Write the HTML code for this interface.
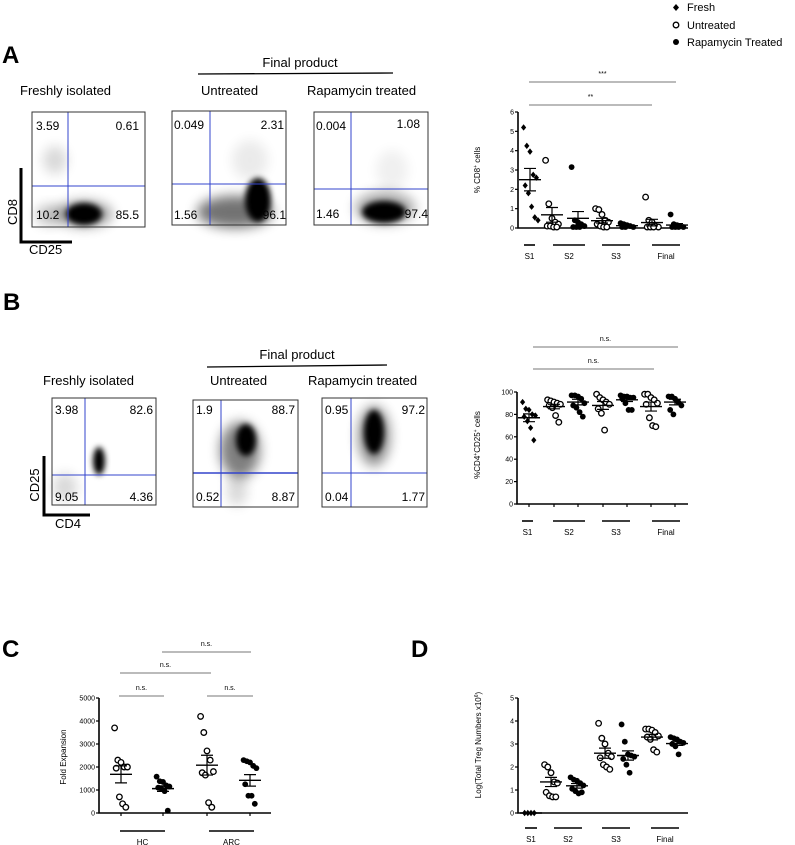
<!DOCTYPE html>
<html><head><meta charset="utf-8">
<style>
body{margin:0;background:#fff;width:795px;height:845px;overflow:hidden;font-family:"Liberation Sans",Arial,sans-serif}
svg{position:absolute;left:0;top:0}
text{font-family:"Liberation Sans",Arial,sans-serif}
</style></head>
<body>
<svg id="fig" width="795" height="845" viewBox="0 0 795 845">
<defs>
<filter id="b2" x="-50%" y="-50%" width="200%" height="200%"><feGaussianBlur stdDeviation="3"/></filter>
<filter id="b5" x="-50%" y="-50%" width="200%" height="200%"><feGaussianBlur stdDeviation="6"/></filter>
</defs>
<g>
<path d="M676 4 L679 7.5 L676 11 L673 7.5Z" fill="#000"/>
<text x="687" y="11" font-size="11">Fresh</text>
<circle cx="676" cy="25" r="2.8" fill="#fff" stroke="#000" stroke-width="1.3"/>
<text x="687" y="29" font-size="11">Untreated</text>
<circle cx="676" cy="42" r="3" fill="#000"/>
<text x="687" y="46" font-size="11">Rapamycin Treated</text>
</g>
<text x="2" y="63" font-size="24" font-weight="bold">A</text>
<text x="3" y="310" font-size="24" font-weight="bold">B</text>
<text x="2" y="657" font-size="24" font-weight="bold">C</text>
<text x="411" y="657" font-size="24" font-weight="bold">D</text>

<g>
<text x="300" y="67" font-size="13" text-anchor="middle">Final product</text>
<line x1="198" y1="74" x2="393" y2="73" stroke="#000" stroke-width="1.3"/>
<text x="20" y="95" font-size="13">Freshly isolated</text>
<text x="201" y="95" font-size="13">Untreated</text>
<text x="307" y="95" font-size="13">Rapamycin treated</text>
<g>
<ellipse cx="55" cy="160" rx="12" ry="14" fill="#000" opacity="0.15" filter="url(#b5)"/>
<ellipse cx="84" cy="214" rx="18" ry="11" fill="#000" filter="url(#b2)"/>
<ellipse cx="84" cy="214" rx="28" ry="13" fill="#000" opacity="0.4" filter="url(#b5)"/>
<ellipse cx="50" cy="215" rx="14" ry="10" fill="#000" opacity="0.25" filter="url(#b5)"/>
<line x1="68" y1="112" x2="68" y2="227" stroke="#3344cc" stroke-width="1"/>
<line x1="32" y1="186" x2="145" y2="186" stroke="#3344cc" stroke-width="1"/>
<rect x="32" y="112" width="113" height="115" fill="none" stroke="#333" stroke-width="1"/>
<text x="36" y="130" font-size="12">3.59</text><text x="139" y="130" font-size="12" text-anchor="end">0.61</text>
<text x="36" y="219" font-size="12">10.2</text><text x="139" y="219" font-size="12" text-anchor="end">85.5</text>
<path d="M21 168 V242 H72" fill="none" stroke="#000" stroke-width="3"/>
<text transform="translate(17,212) rotate(-90)" font-size="13" text-anchor="middle">CD8</text>
<text x="29" y="244" font-size="13" dy="10">CD25</text>
</g>
<g>
<ellipse cx="258" cy="200" rx="13" ry="22" fill="#000" filter="url(#b2)"/>
<ellipse cx="235" cy="212" rx="38" ry="16" fill="#000" opacity="0.55" filter="url(#b5)"/>
<ellipse cx="250" cy="160" rx="18" ry="20" fill="#000" opacity="0.08" filter="url(#b5)"/>
<line x1="210" y1="111" x2="210" y2="225" stroke="#3344cc"/>
<line x1="172" y1="184" x2="286" y2="184" stroke="#3344cc"/>
<rect x="172" y="111" width="114" height="114" fill="none" stroke="#333"/>
<text x="174" y="129" font-size="12">0.049</text><text x="284" y="129" font-size="12" text-anchor="end">2.31</text>
<text x="174" y="219" font-size="12">1.56</text><text x="286" y="219" font-size="12" text-anchor="end">96.1</text>
</g>
<g>
<ellipse cx="384" cy="212" rx="22" ry="11" fill="#000" filter="url(#b2)"/>
<ellipse cx="385" cy="208" rx="30" ry="16" fill="#000" opacity="0.35" filter="url(#b5)"/>
<ellipse cx="392" cy="170" rx="16" ry="20" fill="#000" opacity="0.06" filter="url(#b5)"/>
<line x1="351" y1="112" x2="351" y2="225" stroke="#3344cc"/>
<line x1="314" y1="189" x2="428" y2="189" stroke="#3344cc"/>
<rect x="314" y="112" width="114" height="113" fill="none" stroke="#333"/>
<text x="316" y="130" font-size="12">0.004</text><text x="420" y="128" font-size="12" text-anchor="end">1.08</text>
<text x="316" y="218" font-size="12">1.46</text><text x="428" y="218" font-size="12" text-anchor="end">97.4</text>
</g>
</g>

<g>
<text x="297" y="359" font-size="13" text-anchor="middle">Final product</text>
<line x1="207" y1="367" x2="387" y2="365" stroke="#000" stroke-width="1.3"/>
<text x="43" y="385" font-size="13">Freshly isolated</text>
<text x="210" y="385" font-size="13">Untreated</text>
<text x="308" y="385" font-size="13">Rapamycin treated</text>
<g>
<ellipse cx="99" cy="461" rx="6" ry="14" fill="#000" filter="url(#b2)"/>
<ellipse cx="65" cy="487" rx="12" ry="14" fill="#000" opacity="0.15" filter="url(#b5)"/>
<line x1="85" y1="398" x2="85" y2="505" stroke="#3344cc"/>
<line x1="52" y1="475" x2="156" y2="475" stroke="#3344cc"/>
<rect x="52" y="398" width="104" height="107" fill="none" stroke="#333"/>
<text x="55" y="414" font-size="12">3.98</text><text x="153" y="414" font-size="12" text-anchor="end">82.6</text>
<text x="55" y="501" font-size="12">9.05</text><text x="153" y="501" font-size="12" text-anchor="end">4.36</text>
<path d="M44 456 V515 H90" fill="none" stroke="#000" stroke-width="3"/>
<text transform="translate(39,485) rotate(-90)" font-size="13" text-anchor="middle">CD25</text>
<text x="55" y="528" font-size="13">CD4</text>
</g>
<g>
<ellipse cx="246" cy="440" rx="10" ry="16" fill="#000" filter="url(#b2)"/>
<ellipse cx="240" cy="450" rx="20" ry="28" fill="#000" opacity="0.5" filter="url(#b5)"/>
<ellipse cx="237" cy="490" rx="10" ry="16" fill="#000" opacity="0.15" filter="url(#b5)"/>
<line x1="221" y1="400" x2="221" y2="507" stroke="#3344cc"/>
<line x1="193" y1="473" x2="298" y2="473" stroke="#3344cc" stroke-width="1.5"/>
<rect x="193" y="400" width="105" height="107" fill="none" stroke="#333"/>
<text x="196" y="414" font-size="12">1.9</text><text x="295" y="414" font-size="12" text-anchor="end">88.7</text>
<text x="196" y="501" font-size="12">0.52</text><text x="295" y="501" font-size="12" text-anchor="end">8.87</text>
</g>
<g>
<ellipse cx="374" cy="432" rx="10" ry="22" fill="#000" filter="url(#b2)"/>
<ellipse cx="374" cy="436" rx="16" ry="30" fill="#000" opacity="0.45" filter="url(#b5)"/>
<line x1="351" y1="398" x2="351" y2="507" stroke="#3344cc"/>
<line x1="322" y1="473" x2="427" y2="473" stroke="#3344cc"/>
<rect x="322" y="398" width="105" height="109" fill="none" stroke="#333"/>
<text x="325" y="414" font-size="12">0.95</text><text x="425" y="414" font-size="12" text-anchor="end">97.2</text>
<text x="325" y="501" font-size="12">0.04</text><text x="425" y="501" font-size="12" text-anchor="end">1.77</text>
</g>
</g>
<g id="charts"></g>
</svg>
<script>
const aTicks = [0,1,2,3,4,5,6];
const aMeans = [2.5,0.68,0.5,0.38,0.12,0.28,0.15];
const aSems  = [0.58,0.38,0.35,0.12,0.03,0.17,0.08];
const aValues = [
 [5.2,4.25,3.95,2.75,2.6,2.2,1.8,1.1,0.55,0.4],
 [3.5,1.25,0.5,0.3,0.2,0.1,0.1,0.05,0.05],
 [3.15,0.4,0.3,0.2,0.1,0.05,0.05,0.05],
 [1.0,0.95,0.7,0.4,0.3,0.2,0.1,0.05,0.05],
 [0.25,0.2,0.15,0.1,0.05,0.05,0.05],
 [1.6,0.4,0.3,0.1,0.05,0.05,0.05,0.05],
 [0.7,0.2,0.15,0.1,0.05,0.05,0.05,0.05]];
const aGroups = ["S1","S2","S3","Final"];
const bTicks = [0,20,40,60,80,100];
const bMeans = [77,87,91,88,93,87,91];
const bSems  = [3.5,2,2.5,3.5,1.5,4,2.5];
const bValues = [
 [91,85,84,80,79,78,74,68,57],
 [93,92,91,90,89,88,86,79,73],
 [97,97,96,94,90,88,86,82,78],
 [98,95,93,91,89,85,81,66],
 [97,96,96,95,95,94,90,84,84],
 [98,98,95,93,90,89,77,70,69],
 [96,96,94,91,88,84,80]];
const bGroups = ["S1","S2","S3","Final"];
const cTicks = [0,1000,2000,3000,4000,5000];
const cMeans = [1680,1060,2080,1420];
const cSems  = [370,120,430,250];
const cValues = [
 [3700,2300,2200,2000,2000,1950,700,400,250],
 [1580,1380,1350,1200,1150,1100,1050,950,100],
 [4200,3500,2700,2300,1800,1750,1650,450,250],
 [2300,2250,2200,2050,1950,1250,750,750,400]];
const cGroups = ["HC","ARC"];
const dTicks = [0,1,2,3,4,5];
const dMeans = [0,1.35,1.18,2.6,2.5,3.3,3.02];
const dSems  = [0,0.2,0.1,0.22,0.2,0.12,0.08];
const dValues = [
 [0,0,0,0],
 [2.1,2.0,1.75,1.35,1.3,0.9,0.75,0.7,0.7],
 [1.55,1.45,1.4,1.3,1.2,1.05,0.95,0.85,0.9],
 [3.9,3.25,3.0,2.6,2.45,2.4,2.1,2.0,1.9],
 [3.85,3.1,2.55,2.5,2.45,2.35,2.1,1.75],
 [3.65,3.65,3.6,3.5,3.35,3.3,3.2,2.75,2.65],
 [3.3,3.25,3.2,3.1,3.05,3.0,2.9,2.55]];
const dGroups = ["S1","S2","S3","Final"];

const NS="http://www.w3.org/2000/svg";
const root=document.getElementById('charts');
function el(tag,attrs,parent){const e=document.createElementNS(NS,tag);for(const k in attrs)e.setAttribute(k,attrs[k]);(parent||root).appendChild(e);return e;}
function txt(x,y,s,size,anchor,parent){const t=el('text',{x:x,y:y,'font-size':size,'text-anchor':anchor||'middle'},parent);t.textContent=s;return t;}

function chart(cfg){
 const g=el('g',{});
 
 
 const ymax=cfg.ticks[cfg.ticks.length-1];
 const Y=v=>cfg.y0+(cfg.y1-cfg.y0)*(v/ymax);
 const X=i=>cfg.xs[i];
 const ax=el('path',{d:`M${cfg.ax} ${cfg.y1} V${cfg.y0} H${cfg.axEnd}`,fill:'none',stroke:'#000','stroke-width':1.6},g);
 
 
 cfg.ticks.forEach(t=>{
  el('line',{x1:cfg.ax-3,x2:cfg.ax,y1:Y(t),y2:Y(t),stroke:'#000','stroke-width':1.2},g);
  const lb=txt(cfg.ax-4,Y(t)+2.5,String(t),7,'end',g);
  
  
 });
 if(cfg.xticks) cfg.xs.forEach(x=>el('line',{x1:x,x2:x,y1:cfg.y0,y2:cfg.y0+3,stroke:'#000','stroke-width':1.2},g));
 const yt=el('text',{transform:`translate(${cfg.ytx},${cfg.yty}) rotate(-90)`,'font-size':8,'text-anchor':'middle'},g);
 yt.innerHTML=cfg.ytitle;
 
 
 cfg.values.forEach((arr,i)=>{
  const type=cfg.types[i];
  arr.forEach((v,j)=>{
   const off=((j%5)-2)*3.2+(j>=5?1.6:0);
   const cx=X(i)+off, cy=Y(v);
   let m;
   if(type==='d') m=el('path',{d:`M${cx} ${cy-3.2} L${cx+2.6} ${cy} L${cx} ${cy+3.2} L${cx-2.6} ${cy}Z`,fill:'#000'},g);
   else if(type==='o') m=el('circle',{cx:cx,cy:cy,r:2.8,fill:'#fff',stroke:'#000','stroke-width':1.3},g);
   else m=el('circle',{cx:cx,cy:cy,r:2.9,fill:'#000'},g);
   
   
  });
  const mu=cfg.means[i], se=cfg.sems[i], x=X(i);
  const ml=el('line',{x1:x-11,x2:x+11,y1:Y(mu),y2:Y(mu),stroke:'#000','stroke-width':1.4},g);
  
  
  const eb=el('path',{d:`M${x} ${Y(mu+se)} V${Y(mu-se)} M${x-6} ${Y(mu+se)} H${x+6} M${x-6} ${Y(mu-se)} H${x+6}`,stroke:'#000','stroke-width':1.2,fill:'none'},g);
  
  
 });
 cfg.groups.forEach((lab,k)=>{
  const [a,b]=cfg.gspan[k];
  el('line',{x1:a,x2:b,y1:cfg.gy,y2:cfg.gy,stroke:'#000','stroke-width':1.6},g);
  const t=txt((a+b)/2,cfg.gy+14,lab,8,'middle',g);
  
  
 });
 (cfg.sig||[]).forEach(s=>{
  el('line',{x1:s[0],x2:s[1],y1:s[2],y2:s[2],stroke:'#777','stroke-width':1},g);
  const t=txt((s[0]+s[1])/2,s[2]-6,s[3],7,'middle',g);
  
  
 });
}
const types7=['d','o','f','o','f','o','f'];
chart({name:'cd8-chart',ticks:aTicks,values:aValues,means:aMeans,sems:aSems,types:types7,
 xs:[530,552,578,602,627,652,677],ax:518,axEnd:688,y0:228,y1:112,ytx:480,yty:170,
 ytitle:'% CD8<tspan baseline-shift="super" font-size="5">+</tspan> cells',groups:aGroups,
 gspan:[[524,535],[553,585],[602,630],[652,680]],gy:245,xticks:false,
 sig:[[529,676,82,'***'],[529,652,105,'**']]});
chart({name:'cd4-cd25-chart',ticks:bTicks,values:bValues,means:bMeans,sems:bSems,types:types7,
 xs:[529,554,578,603,627,651,675],ax:517,axEnd:688,y0:504,y1:392,ytx:480,yty:445,
 ytitle:'%CD4<tspan baseline-shift="super" font-size="5">+</tspan>CD25<tspan baseline-shift="super" font-size="5">+</tspan> cells',groups:bGroups,
 gspan:[[522,533],[553,585],[602,630],[652,680]],gy:521,xticks:true,
 sig:[[533,678,347,'n.s.'],[533,654,369,'n.s.']]});
chart({name:'fold-expansion-chart',ticks:cTicks,values:cValues,means:cMeans,sems:cSems,types:['o','f','o','f'],
 xs:[121,163,207,250],ax:99,axEnd:271,y0:813,y1:698,ytx:66,yty:757,
 ytitle:'Fold Expansion',groups:cGroups,
 gspan:[[120,165],[209,254]],gy:831,xticks:true,
 sig:[[119,164,696,'n.s.'],[207,253,696,'n.s.'],[120,211,673,'n.s.'],[162,251,652,'n.s.']]});
chart({name:'treg-numbers-chart',ticks:dTicks,values:dValues,means:dMeans,sems:dSems,types:types7,
 xs:[531,551,577,605,628,652,677],ax:518,axEnd:688,y0:813,y1:698,ytx:481,yty:745,
 ytitle:'Log(Total Treg Numbers x10<tspan baseline-shift="super" font-size="5">6</tspan>)',groups:dGroups,
 gspan:[[525,537],[554,582],[602,630],[651,679]],gy:828,xticks:false});
</script>
</body></html>
